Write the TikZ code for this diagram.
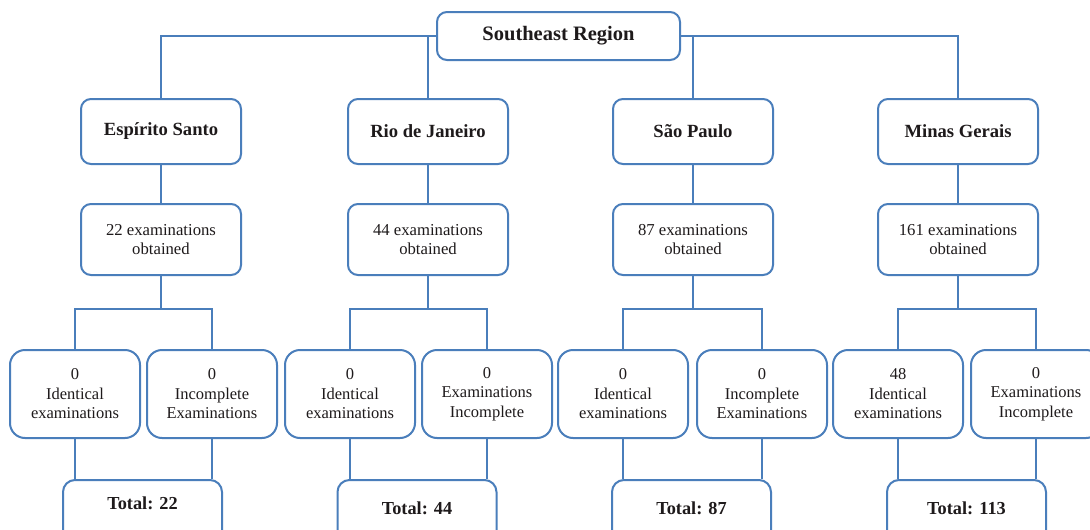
\documentclass[tikz,border=0pt]{standalone}
\usepackage{fontspec}
\setmainfont{Liberation Serif}
\definecolor{bl}{HTML}{4A7EBB}
\definecolor{tx}{HTML}{1E1A1B}
\begin{document}
\begin{tikzpicture}[x=1pt,y=-1pt,
  box/.style={draw=bl,line width=2pt,rounded corners=10pt,fill=white,text=tx,inner sep=0pt},
  reg/.style={box,minimum width=243pt,minimum height=48pt,font=\fontsize{20.5}{24}\selectfont\bfseries},
  state/.style={box,minimum width=160pt,minimum height=65pt,font=\fontsize{18.6}{22}\selectfont\bfseries},
  obt/.style={box,align=center,minimum width=160pt,minimum height=71pt,font=\fontsize{16.7}{18.5}\selectfont},
  leaf/.style={box,align=center,rounded corners=15pt,minimum width=130pt,minimum height=88pt,font=\fontsize{16.5}{19.5}\selectfont},
  tot/.style={box,rounded corners=12pt,minimum width=159pt,anchor=north,text height=34pt,text depth=30pt,font=\fontsize{18.3}{22}\selectfont\bfseries},
  link/.style={draw=bl,line width=1.6pt}]
\useasboundingbox (0,0) rectangle (1090,530);
\clip (0,0) rectangle (1090,530);
\fill[white] (0,0) rectangle (1090,530);

\node[reg] (top) at (558.5,36) {Southeast Region};

\node[state] (es) at (161,131.5) {Espírito Santo};
\node[state] (rj) at (428,131.5) {Rio de Janeiro};
\node[state] (sp) at (693,131.5) {São Paulo};
\node[state] (mg) at (958,131.5) {Minas Gerais};

\node[obt] (eso) at (161,239.5) {22 examinations\\obtained};
\node[obt] (rjo) at (428,239.5) {44 examinations\\obtained};
\node[obt] (spo) at (693,239.5) {87 examinations\\obtained};
\node[obt] (mgo) at (958,239.5) {161 examinations\\obtained};

\node[leaf] (esa) at (75,394) {0\\Identical\\examinations};
\node[leaf] (esb) at (212,394) {0\\Incomplete\\Examinations};
\node[leaf] (rja) at (350,394) {0\\Identical\\examinations};
\node[leaf] (rjb) at (487,394) {0\\Examinations\\Incomplete};
\node[leaf] (spa) at (623,394) {0\\Identical\\examinations};
\node[leaf] (spb) at (762,394) {0\\Incomplete\\Examinations};
\node[leaf] (mga) at (898,394) {48\\Identical\\examinations};
\node[leaf] (mgb) at (1036,394) {0\\Examinations\\Incomplete};

\node[tot,text height=29pt,text depth=35pt] (est) at (142.5,479) {Total: 22};
\node[tot] (rjt) at (417,479) {Total: 44};
\node[tot] (spt) at (691.5,479) {Total: 87};
\node[tot] (mgt) at (966.5,479) {Total: 113};

% top connectors
\draw[link] (es.north) |- (top.west);
\draw[link] (rj.north) -- (rj.north |- top.west);
\draw[link] (mg.north) |- (top.east);
\draw[link] (sp.north) -- (sp.north |- top.east);

% state to obtained to leaves to totals
\foreach \s in {es,rj,sp,mg}{
  \draw[link] (\s.south) -- (\s o.north);
  \coordinate (\s split) at (\s o.south |- 0,309);
  \draw[link] (\s o.south) -- (\s split);
  \draw[link] (\s a.north) |- (\s split) -| (\s b.north);
  \draw[link] (\s a.south) -- (\s a.south |- \s t.north);
  \draw[link] (\s b.south) -- (\s b.south |- \s t.north);
}
\end{tikzpicture}
\end{document}
